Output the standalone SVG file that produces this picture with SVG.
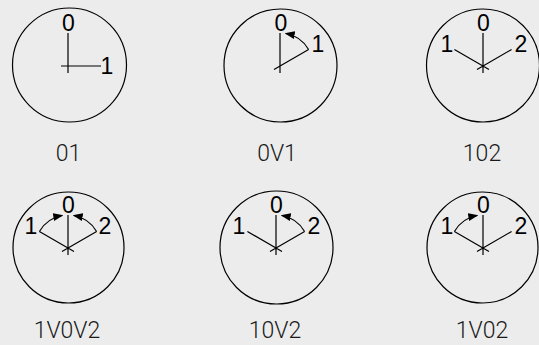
<svg xmlns="http://www.w3.org/2000/svg" width="539" height="345" viewBox="0 0 539 345">
<style>
.face{fill:none;stroke:#000;stroke-width:1.2}
.hand{stroke:#000;stroke-width:1.2;fill:none}
.arc{stroke:#000;stroke-width:1.2;fill:none;marker-end:url(#ah)}
.num{font-family:"Liberation Sans",Arial,sans-serif;font-size:23px;fill:#000;text-anchor:middle}
.cap{font-family:Roboto,"Liberation Sans",sans-serif;font-weight:300;font-size:23px;fill:#1a1a1a;text-anchor:middle}
</style>
<defs>
<marker id="ah" viewBox="0 0 10 8" refX="9" refY="4" markerWidth="10" markerHeight="8" markerUnits="userSpaceOnUse" orient="auto">
<path d="M0,0 L10,4 L0,8 Z" fill="#000"/>
</marker>
</defs>
<rect width="539" height="345" fill="#ececec"/>
<g id="clock-01">
<circle class="face" cx="69.5" cy="65" r="57"/>
<path class="hand" d="M68,73 V33 M61,66 H101"/>
<text class="num" x="68.5" y="31">0</text>
<text class="num" x="107" y="74">1</text>
<text class="cap" x="68.5" y="161">01</text>
</g>
<g id="clock-0V1">
<circle class="face" cx="280.5" cy="65.5" r="56.5"/>
<path class="hand" d="M280,73 V33 M274,69.5 L308.6,49.5"/>
<text class="num" x="281" y="31">0</text>
<text class="num" x="318" y="52">1</text>
<text class="cap" x="277" y="161">0V1</text>
</g>
<g id="clock-102">
<circle class="face" cx="483" cy="65.5" r="56.5"/>
<path class="hand" d="M483,73 V33 M489,69.5 L454.4,49.5 M477,69.5 L511.6,49.5"/>
<text class="num" x="483.5" y="31">0</text>
<text class="num" x="447" y="52">1</text>
<text class="num" x="521" y="52">2</text>
<text class="cap" x="482" y="161">102</text>
</g>
<g id="clock-1V0V2">
<circle class="face" cx="68.5" cy="247.5" r="55.5"/>
<path class="hand" d="M68,255 V215 M74,251.5 L39.4,231.5 M62,251.5 L96.6,231.5"/>
<text class="num" x="68.5" y="213">0</text>
<text class="num" x="31" y="234">1</text>
<text class="num" x="105" y="234">2</text>
<text class="cap" x="67" y="338">1V0V2</text>
</g>
<g id="clock-10V2">
<circle class="face" cx="276.5" cy="247.5" r="56.5"/>
<path class="hand" d="M276,255 V215 M282,251.5 L247.4,231.5 M270,251.5 L304.6,231.5"/>
<text class="num" x="276.5" y="213">0</text>
<text class="num" x="239" y="234">1</text>
<text class="num" x="314" y="234">2</text>
<text class="cap" x="275" y="338">10V2</text>
</g>
<g id="clock-1V02">
<circle class="face" cx="482.5" cy="247.5" r="55.5"/>
<path class="hand" d="M483,255 V215 M489,251.5 L454.4,231.5 M477,251.5 L511.6,231.5"/>
<text class="num" x="483.5" y="213">0</text>
<text class="num" x="447" y="234">1</text>
<text class="num" x="521" y="234">2</text>
<text class="cap" x="482" y="338">1V02</text>
</g>
<g id="connectors">
<path class="arc" d="M308.6,49.5 A33,33 0 0 0 285.7,33.5"/>
<path class="arc" d="M39.4,231.5 A33,33 0 0 1 62.3,215.5"/>
<path class="arc" d="M96.6,231.5 A33,33 0 0 0 73.7,215.5"/>
<path class="arc" d="M304.6,231.5 A33,33 0 0 0 281.7,215.5"/>
<path class="arc" d="M454.4,231.5 A33,33 0 0 1 477.3,215.5"/>
</g>
</svg>
